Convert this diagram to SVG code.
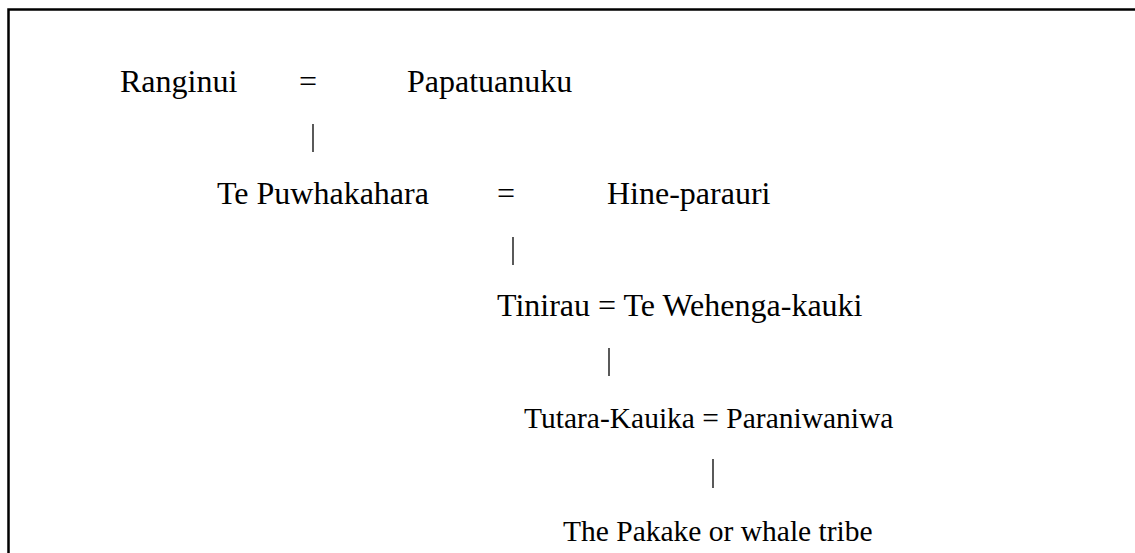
<svg xmlns="http://www.w3.org/2000/svg" width="1135" height="553" viewBox="0 0 1135 553">
<style>
.t{font-family:"Liberation Serif","Times New Roman",serif;font-size:32px;fill:#000}
.s{font-size:29.5px}
.c{stroke:#000;stroke-width:1.3;fill:none}
</style>
<rect x="0" y="0" width="1135" height="553" fill="#fff"/>
<path d="M8.5 560 V9.5 H1140" stroke="#000" stroke-width="2.5" fill="none"/>
<g id="connectors">
<line class="c" x1="313" y1="124" x2="313" y2="152"/>
<line class="c" x1="513" y1="237" x2="513" y2="265"/>
<line class="c" x1="609" y1="348" x2="609" y2="376"/>
<line class="c" x1="713" y1="459" x2="713" y2="488"/>
</g>
<g id="n1"><text class="t" x="120" y="92">Ranginui</text></g>
<g id="eq1"><text class="t" x="299" y="92">=</text></g>
<g id="n2"><text class="t" x="407" y="92">Papatuanuku</text></g>
<g id="n3"><text class="t" x="217" y="204">Te Puwhakahara</text></g>
<g id="eq2"><text class="t" x="497" y="204">=</text></g>
<g id="n4"><text class="t" x="607" y="204">Hine-parauri</text></g>
<g id="n5"><text class="t" x="497" y="316">Tinirau = Te Wehenga-kauki</text></g>
<g id="n6"><text class="t s" x="524" y="428">Tutara-Kauika = Paraniwaniwa</text></g>
<g id="n7"><text class="t s" x="563" y="541">The Pakake or whale tribe</text></g>
</svg>
